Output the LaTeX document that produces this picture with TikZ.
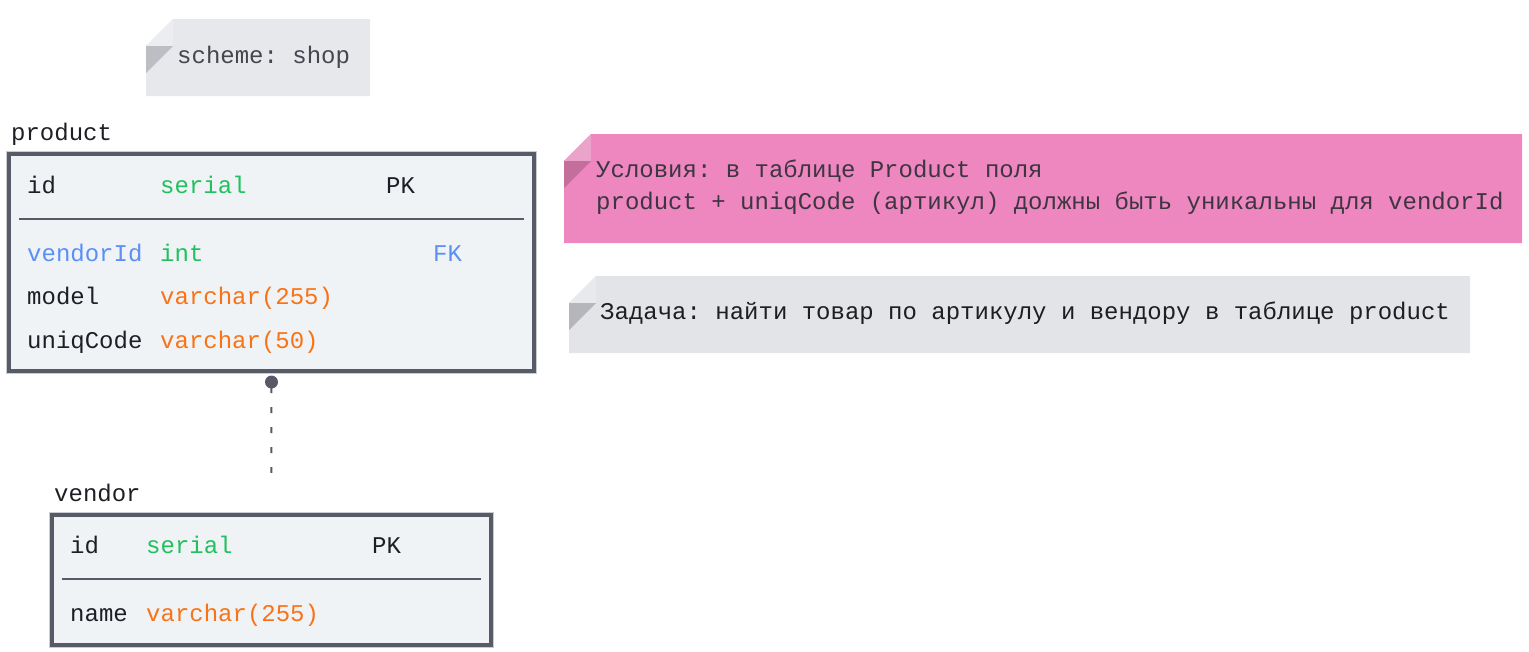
\documentclass[tikz,border=0pt]{standalone}
\usepackage{fontspec}
\setmainfont{Liberation Mono}
\newcommand\myfs{\fontsize{24}{32}\selectfont\frenchspacing}
\definecolor{bordc}{HTML}{575A67}
\definecolor{tfill}{HTML}{EFF3F6}
\definecolor{txtc}{HTML}{1E1F24}
\definecolor{grn}{HTML}{22C05F}
\definecolor{org}{HTML}{F97316}
\definecolor{blu}{HTML}{5B8FF6}
\definecolor{nAbg}{HTML}{E7E8EC}
\definecolor{nAdk}{HTML}{BDBEC3}
\definecolor{nAlt}{HTML}{ECEDF0}
\definecolor{nAtx}{HTML}{44454D}
\definecolor{nBbg}{HTML}{EE86C0}
\definecolor{nBdk}{HTML}{C46E9C}
\definecolor{nBlt}{HTML}{EAA4CA}
\definecolor{nBtx}{HTML}{3D3540}
\definecolor{nCbg}{HTML}{E2E4E8}
\definecolor{nCdk}{HTML}{B5B6BB}
\definecolor{nClt}{HTML}{E8E9EC}
\definecolor{nCtx}{HTML}{1D1D22}
\definecolor{conc}{HTML}{5A5866}
\definecolor{ringc}{HTML}{C9CCD2}
\tikzset{
  cell/.style={anchor=base west, inner sep=0pt, font=\myfs, text=txtc},
  tbox/.style={draw=bordc, line width=4pt, fill=tfill, inner sep=0pt, rectangle,
     preaction={draw=ringc, line width=6pt}},
  sepline/.style={draw=bordc, line width=2pt},
  conn/.style={draw=conc, line width=2pt, dash pattern=on 6pt off 14pt},
}
\begin{document}
\frenchspacing
\begin{tikzpicture}[x=1pt,y=-1pt]
\useasboundingbox (0,0) rectangle (1529,651);
% note: scheme
\fill[nAbg] (146,46) -- (173,19) -- (370,19) -- (370,96) -- (146,96) -- cycle;
\fill[nAlt] (146,46) -- (173,19) -- (173,46) -- cycle;
\fill[nAdk] (146,46) -- (173,46) -- (146,73) -- cycle;
\node[cell, text=nAtx] (schemetxt) at (177,63.5) {scheme: shop};
% note: conditions
\fill[nBbg] (564,161) -- (591,134) -- (1522,134) -- (1522,243) -- (564,243) -- cycle;
\fill[nBlt] (564,161) -- (591,134) -- (591,161) -- cycle;
\fill[nBdk] (564,161) -- (591,161) -- (564,188) -- cycle;
\node[cell, text=nBtx] (condA) at (596,177.5) {Условия: в таблице Product поля};
\node[cell, text=nBtx] (condB) at (596,209.5) {product + uniqCode (артикул) должны быть уникальны для vendorId};
% note: task
\fill[nCbg] (569,303) -- (596,276) -- (1470,276) -- (1470,353) -- (569,353) -- cycle;
\fill[nClt] (569,303) -- (596,276) -- (596,303) -- cycle;
\fill[nCdk] (569,303) -- (596,303) -- (569,330) -- cycle;
\node[cell, text=nCtx] (tasktxt) at (600,319.5) {Задача: найти товар по артикулу и вендору в таблице product};
% product table
\node[cell] (plabel) at (11,140.5) {product};
\node[tbox, minimum width=525pt, minimum height=217pt] (product) at (271.5,262.5) {};
\draw[sepline] (19,219) -- (524,219);
\node[cell] (p1a) at (27,193.5) {id};
\node[cell, text=grn] (p1b) at (160,193.5) {serial};
\node[cell] (p1c) at (386,193.5) {PK};
\node[cell, text=blu] (p2a) at (27,261.5) {vendorId};
\node[cell, text=grn] (p2b) at (160,261.5) {int};
\node[cell, text=blu] (p2c) at (433,261.5) {FK};
\node[cell] (p3a) at (27,304.5) {model};
\node[cell, text=org] (p3b) at (160,304.5) {varchar(255)};
\node[cell] (p4a) at (27,348.5) {uniqCode};
\node[cell, text=org] (p4b) at (160,348.5) {varchar(50)};
% vendor table
\node[cell] (vlabel) at (54,501.5) {vendor};
\node[tbox, minimum width=439pt, minimum height=130pt] (vendor) at (271.3,579.9) {};
\draw[sepline] (62,579) -- (481,579);
\node[cell] (v1a) at (70,553.5) {id};
\node[cell, text=grn] (v1b) at (146,553.5) {serial};
\node[cell] (v1c) at (372,553.5) {PK};
\node[cell] (v2a) at (70,621.5) {name};
\node[cell, text=org] (v2b) at (146,621.5) {varchar(255)};
% connector
\coordinate (c1) at ([yshift=-9pt]product.south);
\coordinate (c2) at ([yshift=40pt]vendor.north);
\draw[conn] ([yshift=-5pt]c1) -- (c2);
\fill[conc] (c1) circle (6.5pt);
\end{tikzpicture}
\end{document}
